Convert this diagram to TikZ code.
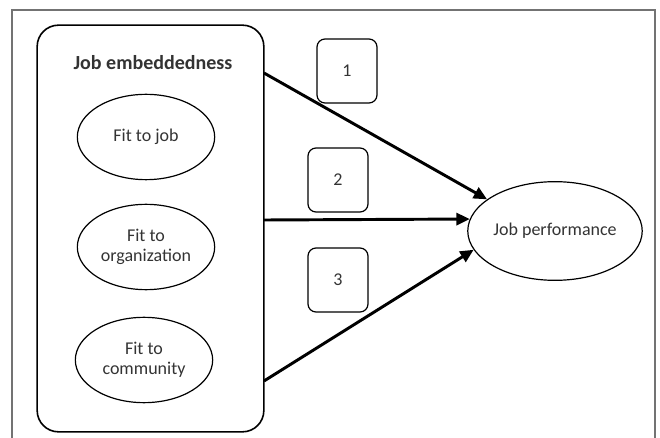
\documentclass[tikz,border=0pt]{standalone}
\usepackage{fontspec}
\setmainfont{Carlito}
\usetikzlibrary{shapes.geometric,arrows.meta}
\begin{document}
\begin{tikzpicture}[x=0.75pt,y=-0.75pt,
    every node/.style={text=black!80,font=\fontsize{13.5}{15}\selectfont},
    fit/.style={draw,ellipse,line width=0.9pt,inner sep=0pt,minimum width=103pt,minimum height=64pt,align=center},
    num/.style={draw,rounded corners=6pt,line width=0.9pt,minimum width=45pt,minimum height=48pt},
    link/.style={line width=2.2pt,-{Triangle[length=10pt,width=9pt]}}]
  \useasboundingbox (0,0) rectangle (660,438);
  \draw[black!55,line width=0.8pt] (12,438) -- (12,10) -- (655,10) -- (655,438);
  \node[draw,rounded corners=16pt,line width=1.2pt,minimum width=170pt,minimum height=305pt] (je) at (150.5,228.5) {};
  \draw
    (153,63) node[font=\fontsize{15}{17}\selectfont\bfseries] (title) {Job embeddedness}
    (146,137) node[fit] (job) {Fit to job}
    (146,247) node[fit] (org) {Fit to\\organization}
    (144,360) node[fit] (com) {Fit to\\community}
    (347,71) node[num] (1) {1}
    (338,180) node[num] (2) {2}
    (338,280) node[num] (3) {3}
    (555,231) node[fit,minimum width=116pt,minimum height=74pt] (jp) {Job performance};
  \coordinate (s1) at (264,73);
  \coordinate (s2) at (264,220);
  \coordinate (s3) at (264,381);
  \begin{scope}[link]
    \draw (s1) to (jp.155);
    \draw (s2) to (jp.172);
    \draw (s3) to (jp.193);
  \end{scope}
\end{tikzpicture}
\end{document}
